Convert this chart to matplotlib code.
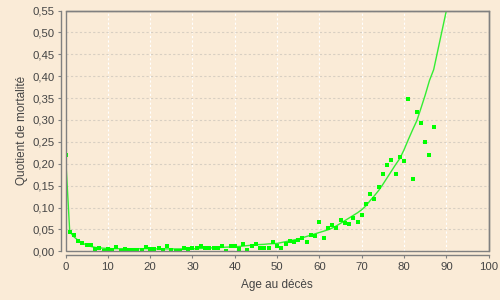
import matplotlib
matplotlib.use('Agg')
import matplotlib.pyplot as plt
from matplotlib.ticker import FuncFormatter, MultipleLocator
from matplotlib.patches import Rectangle

# observed mortality quotient per age
ages_obs = list(range(0, 88))
q_obs = [0.221, 0.045, 0.037, 0.024, 0.018, 0.014, 0.014, 0.005, 0.008, 0.0015,
         0.006, 0.004, 0.010, 0.001, 0.006, 0.003, 0.003, 0.003, 0.004, 0.010,
         0.006, 0.006, 0.008, 0.004, 0.011, 0.002, 0.0015, 0.0015, 0.008, 0.005,
         0.008, 0.008, 0.011, 0.008, 0.008, 0.008, 0.008, 0.012, 0.0015, 0.011,
         0.013, 0.006, 0.0175, 0.003, 0.011, 0.017, 0.008, 0.008, 0.008, 0.021,
         0.011, 0.008, 0.016, 0.024, 0.022, 0.025, 0.031, 0.022, 0.038, 0.034,
         0.066, 0.031, 0.054, 0.059, 0.054, 0.072, 0.064, 0.063, 0.075, 0.068,
         0.084, 0.109, 0.132, 0.120, 0.148, 0.177, 0.196, 0.209, 0.177, 0.216,
         0.207, 0.349, 0.166, 0.319, 0.294, 0.250, 0.221, 0.285]

# smoothed quotient
ages_fit = list(range(0, 92))
q_fit = [0.221, 0.045, 0.033, 0.025, 0.019, 0.014, 0.011, 0.009, 0.008, 0.007,
         0.0065, 0.006, 0.006, 0.006, 0.006, 0.006, 0.006, 0.006, 0.006, 0.006,
         0.006, 0.0055, 0.0055, 0.0055, 0.0055, 0.0055, 0.0055, 0.0055, 0.0055, 0.0055,
         0.0055, 0.006, 0.0065, 0.007, 0.0075, 0.008, 0.0085, 0.009, 0.0095, 0.010,
         0.0105, 0.011, 0.012, 0.013, 0.014, 0.015, 0.0155, 0.016, 0.017, 0.0175,
         0.018, 0.020, 0.022, 0.024, 0.026, 0.028, 0.031, 0.034, 0.037, 0.040,
         0.043, 0.046, 0.049, 0.053, 0.058, 0.064, 0.070, 0.076, 0.082, 0.088,
         0.095, 0.104, 0.116, 0.127, 0.139, 0.153, 0.168, 0.183, 0.198, 0.212,
         0.232, 0.255, 0.277, 0.298, 0.327, 0.357, 0.390, 0.415, 0.460, 0.505,
         0.550, 0.600]

bg = '#faebd7'
axis_col = '#808080'
text_col = '#444444'

plt.rcParams['font.family'] = ['Liberation Sans', 'DejaVu Sans']

fig = plt.figure(figsize=(5, 3), dpi=100, facecolor=bg)
ax = fig.add_axes([0.131, 0.1623, 0.8464, 0.8027])
ax.set_facecolor(bg)

ax.plot(ages_fit, q_fit, color='#33ee33', lw=1.0, zorder=3)
ax.plot(ages_obs, q_obs, ls='none', marker='s', ms=3, mfc='#00ff00', mec='#00ff00',
        mew=0, zorder=4)

ax.set_xlim(0, 100)
ax.set_ylim(0, 0.55)
ax.xaxis.set_major_locator(MultipleLocator(10))
ax.yaxis.set_major_locator(MultipleLocator(0.05))
ax.yaxis.set_major_formatter(FuncFormatter(lambda v, p: ('%.2f' % v).replace('.', ',')))

ax.grid(axis='y', color='#d8cfc2', ls=(0, (2, 2)), lw=0.8)
ax.grid(axis='x', color='#ffffff', ls=(0, (2, 2)), lw=0.8)
ax.set_axisbelow(True)

# plot outline
for s in ['top', 'right']:
    ax.spines[s].set_color(axis_col)
    ax.spines[s].set_linewidth(1.0)
ax.add_patch(Rectangle((0, 0), 1, 1, transform=ax.transAxes, fill=False,
                       ec=axis_col, lw=1.0, clip_on=False, zorder=5))
# axis lines offset from the plot
for s in ['left', 'bottom']:
    ax.spines[s].set_position(('outward', 3))
    ax.spines[s].set_color(axis_col)
    ax.spines[s].set_linewidth(1.0)

ax.tick_params(axis='both', direction='out', length=2, width=0.8, color=axis_col,
               labelsize=8.2, labelcolor=text_col, pad=3)

ax.set_xlabel('Age au décès', fontsize=8.5, color=text_col, labelpad=5)
ax.set_ylabel('Quotient de mortalité', fontsize=8.5, color=text_col, labelpad=3)

fig.savefig('out.png', dpi=100, facecolor=bg)
